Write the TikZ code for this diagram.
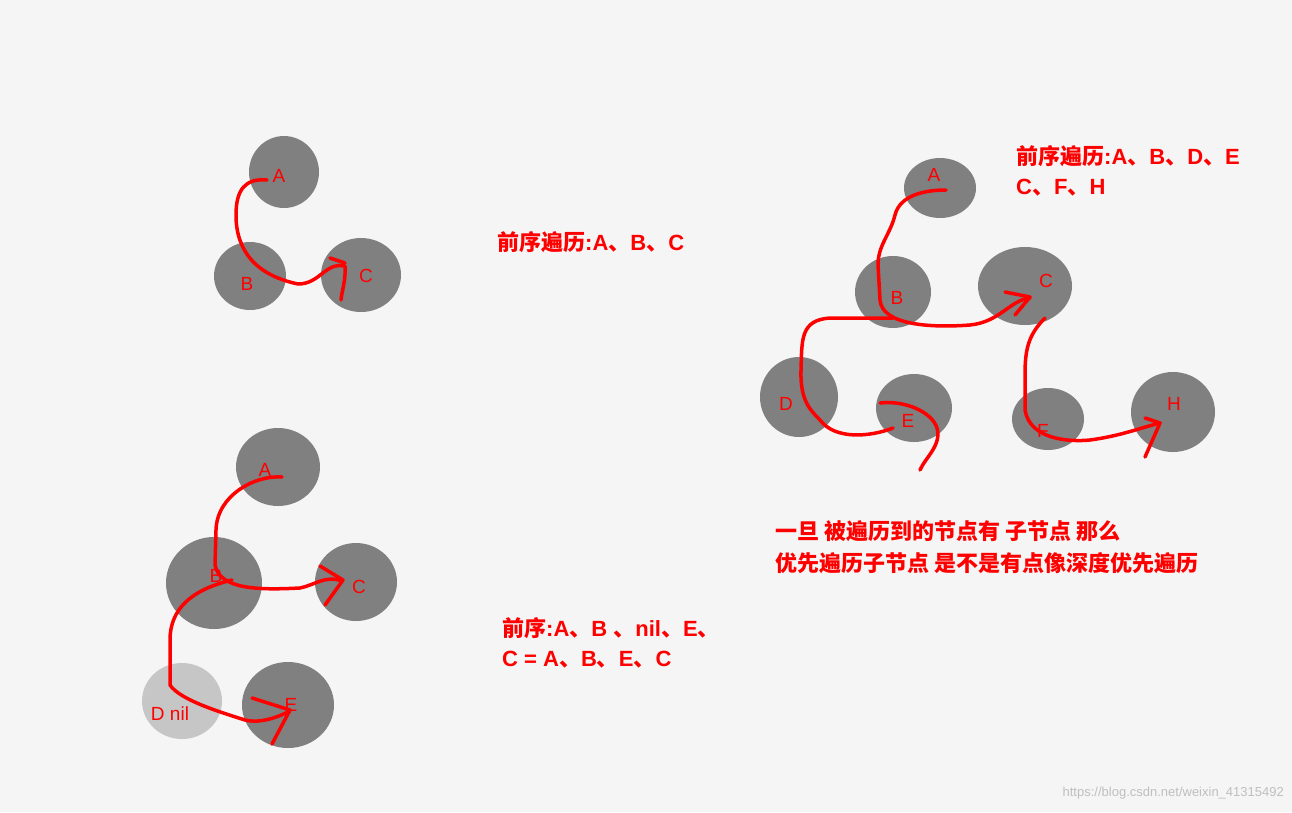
\documentclass[tikz,border=0pt]{standalone}
\usepackage{fontspec}
\setmainfont{Liberation Sans}
\newfontfamily\cjk{Noto Sans CJK SC}
\newcommand{\zh}[1]{{\cjk #1}}
\definecolor{bg}{HTML}{F5F5F5}
\definecolor{nd}{HTML}{808080}
\definecolor{nl}{HTML}{C6C6C6}
\definecolor{rd}{HTML}{FF0000}
\tikzset{
 nodec/.style={fill=nd,draw=none},
 lab/.style={text=rd,font=\fontsize{19}{22}\selectfont},
 txt/.style={text=rd,font=\bfseries\fontsize{22}{26}\selectfont,anchor=west,inner sep=0},
 pen/.style={draw=rd,line width=3.5pt,line cap=round,line join=round}
}
\begin{document}
\begin{tikzpicture}[x=1pt,y=-1pt]
\fill[bg] (0,0) rectangle (1292,812);
\useasboundingbox (0,0) rectangle (1292,812);
% top-left
\fill[nodec] (284,172) ellipse (35 and 36);
\fill[nodec] (250,276) ellipse (36 and 34);
\fill[nodec] (361,275) ellipse (40 and 37);
\node[lab] (a1) at (279,176) {A};
\node[lab] (b1) at (247,284) {B};
\node[lab] (c1) at (366,276) {C};
% bottom-left
\fill[nodec] (278,467) ellipse (42 and 39);
\fill[nodec] (214,583) ellipse (48 and 46);
\fill[nodec] (356,582) ellipse (41 and 39);
\fill[nl] (182,701) ellipse (40 and 38);
\fill[nodec] (288,705) ellipse (46 and 43);
\node[lab] (a2) at (265,470) {A};
\node[lab] (b2) at (216,576) {B};
\node[lab] (c2) at (359,587) {C};
\node[lab] (d2) at (170,714) {D nil};
\node[lab] (e2) at (291,705) {E};
% right
\fill[nodec] (940,188) ellipse (36 and 30);
\fill[nodec] (893,292) ellipse (38 and 36);
\fill[nodec] (1025,286) ellipse (47 and 39);
\fill[nodec] (799,397) ellipse (39 and 40);
\fill[nodec] (914,408) ellipse (38 and 34);
\fill[nodec] (1048,419) ellipse (36 and 31);
\fill[nodec] (1173,412) ellipse (42 and 40);
\node[lab] (a3) at (934,175) {A};
\node[lab] (b3) at (897,298) {B};
\node[lab] (c3) at (1046,281) {C};
\node[lab] (d3) at (786,404) {D};
\node[lab] (e3) at (908,421) {E};
\node[lab] (f3) at (1043,431) {F};
\node[lab] (h3) at (1174,404) {H};
% paths top-left
\draw[pen] (267,180) .. controls (245,178) and (236,190) .. (236,215) .. controls (236,250) and (255,275) .. (298,284) .. controls (320,284) and (325,262) .. (345,266) .. controls (346,280) and (342,290) .. (341,300);
\draw[pen] (330,258) -- (345,263);
% bottom-left
\draw[pen] (282,477) .. controls (255,475) and (217,495) .. (216,530) -- (215,565) .. controls (220,590) and (260,590) .. (300,588) .. controls (315,585) and (325,575) .. (342,581);
\draw[pen] (320,566) -- (343,580) -- (325,605);
\draw[pen] (232,580) .. controls (190,590) and (170,610) .. (170,640) -- (170,685) .. controls (180,700) and (220,712) .. (245,720) .. controls (262,724) and (280,716) .. (290,711);
\draw[pen] (252,698) -- (290,710) -- (272,744);
% right
\draw[pen] (946,190) .. controls (925,190) and (900,195) .. (895,215) .. controls (890,235) and (878,245) .. (878,265) -- (880,300) .. controls (882,325) and (930,328) .. (970,325) .. controls (1000,322) and (1010,300) .. (1030,298);
\draw[pen] (1005,292) -- (1030,297) -- (1015,315);
\draw[pen] (893,318) -- (830,318) .. controls (800,320) and (802,340) .. (801,370) .. controls (800,400) and (810,410) .. (820,420) .. controls (835,440) and (870,437) .. (893,428);
\draw[pen] (880,403) .. controls (905,400) and (932,412) .. (937,428) .. controls (942,445) and (925,458) .. (920,470);
\draw[pen] (1045,318) .. controls (1028,335) and (1025,350) .. (1025,375) -- (1025,410) .. controls (1030,440) and (1070,442) .. (1090,440) .. controls (1120,436) and (1140,428) .. (1160,423);
\draw[pen] (1145,418) -- (1160,423) -- (1145,457);
% texts
\node[txt] (t1) at (497,242) {\zh{前序遍历}:A\zh{、}B\zh{、}C};
\node[txt] (t2) at (502,628) {\zh{前序}:A\zh{、}B \zh{、}nil\zh{、}E\zh{、}};
\node[txt] (t3) at (502,660) {C = A\zh{、}B\zh{、}E\zh{、}C};
\node[txt] (t4) at (1016,156) {\zh{前序遍历}:A\zh{、}B\zh{、}D\zh{、}E};
\node[txt] (t5) at (1016,188) {C\zh{、}F\zh{、}H};
\node[txt] (t6) at (775,531) {\zh{一旦 被遍历到的节点有 子节点 那么}};
\node[txt] (t7) at (775,563) {\zh{优先遍历子节点 是不是有点像深度优先遍历}};
\node[anchor=east,text=black!25,font=\fontsize{13}{15}\selectfont,inner sep=0] (w) at (1284,793) {https://blog.csdn.net/weixin\_41315492};
\end{tikzpicture}
\end{document}
